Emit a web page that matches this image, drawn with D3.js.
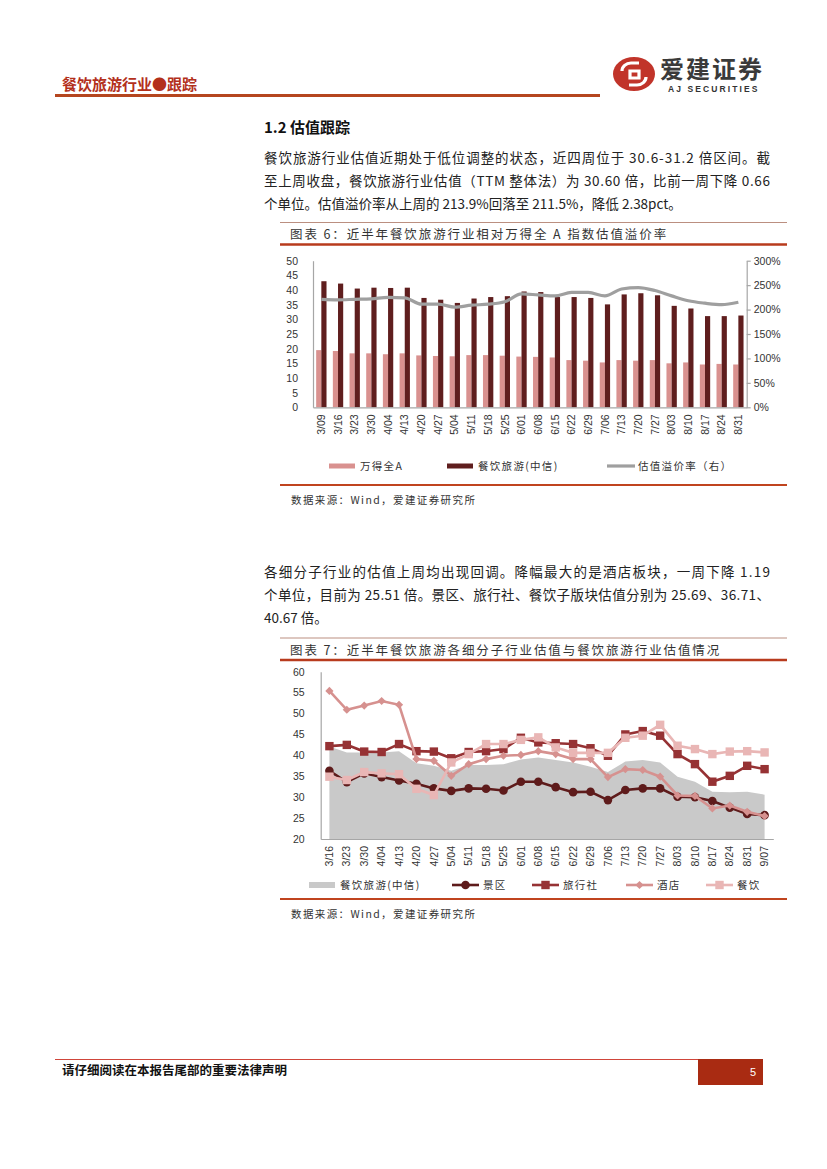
<!DOCTYPE html>
<html>
<head>
<meta charset="utf-8">
<script src="https://cdn.jsdelivr.net/npm/d3@7"></script>
<style>
 body { margin:0; background:#fff; }
 svg text { font-family:"Noto Sans CJK SC", sans-serif; fill:#222; }
 .body { font-size:13.5px; }
 .ttl { font-size:12.5px; letter-spacing:1.9px; fill:#333; }
 .src { font-size:10.5px; letter-spacing:1.4px; fill:#333; }
 .leg { font-size:10.5px; letter-spacing:1.3px; fill:#333; }
 .axis text { font-family:"Liberation Sans", Arial, sans-serif; font-size:10.5px; fill:#333; }
 .axis path, .axis line { stroke:#a6a6a6; stroke-width:1.2px; }
</style>
</head>
<body>
<svg id="page" width="827" height="1169"></svg>
<script>
 // ---- chart 6 data ----
 var weeks1 = ["3/09","3/16","3/23","3/30","4/04","4/13","4/20","4/27","5/04","5/11","5/18","5/25","6/01",
               "6/08","6/15","6/22","6/29","7/06","7/13","7/20","7/27","8/03","8/10","8/17","8/24","8/31"];
 var wanDe = [19.5,19.2,18.4,18.4,18.1,18.4,17.7,17.5,17.4,17.8,17.8,17.6,17.3,
              17.2,17.0,16.1,15.9,15.3,16.1,15.9,16.1,15.0,15.3,14.6,14.8,14.6];
 var canYinCiti = [43.0,42.2,40.5,40.8,40.7,40.8,37.3,36.7,35.6,37.1,37.6,37.9,39.5,
                   39.3,37.6,37.6,37.3,35.1,38.5,38.9,38.2,34.6,33.7,31.1,31.1,31.3];
 var premium = [221,220,221,222,225,224,211,211,205,209,211,216,232,
                230,228,235,235,228,242,245,239,228,218,213,210,215];
 var leftTicks1 = [0,5,10,15,20,25,30,35,40,45,50];
 var rightTicks1 = [0,50,100,150,200,250,300];

 // ---- chart 7 data ----
 var weeks2 = ["3/16","3/23","3/30","4/04","4/13","4/20","4/27","5/04","5/11","5/18","5/25","6/01","6/08",
               "6/15","6/22","6/29","7/06","7/13","7/20","7/27","8/03","8/10","8/17","8/24","8/31","9/07"];
 var industry = [42.1,40.7,40.7,40.7,41.0,38.1,37.5,36.3,37.7,37.7,37.9,39.0,39.5,
                 38.9,38.3,37.3,36.0,38.5,38.9,38.3,34.9,33.7,31.3,31.2,31.3,30.6];
 var scenic = [36.3,33.6,35.7,34.8,34.0,33.2,32.1,31.5,32.1,32.0,31.6,33.7,33.7,
               32.4,31.2,31.3,29.3,31.7,32.1,32.1,30.1,30.0,29.1,27.5,26.0,25.7];
 var travel = [42.2,42.5,40.9,40.8,42.7,41.0,40.9,39.3,40.8,41.0,41.5,44.2,43.1,
               42.9,42.7,41.7,39.9,45.0,45.8,44.7,40.3,37.9,33.7,35.1,37.5,36.7];
 var hotel = [55.4,50.9,51.9,53.0,52.1,39.1,38.7,35.1,37.9,39.1,39.9,40.1,41.0,
              40.3,39.1,39.1,34.8,36.7,36.5,34.9,30.4,30.3,27.3,28.0,26.5,25.5];
 var catering = [34.9,34.1,36.0,35.7,35.5,32.0,30.5,38.3,40.3,42.7,42.7,43.7,44.3,
                 41.9,40.6,40.6,40.6,44.2,44.7,47.3,42.3,41.5,40.3,40.9,41.0,40.7];
 var ticks2 = [20,25,30,35,40,45,50,55,60];

 var svg = d3.select("#page");

 // ---- page header ----
 svg.append("text").attr("x",62).attr("y",89.5).text("餐饮旅游行业●跟踪")
    .style("font-size","15px").style("font-weight","bold").style("fill","#b3301b");
 svg.append("rect").attr("x",55).attr("y",94).attr("width",545).attr("height",3).attr("fill","#b5461f");

 var logo = svg.append("g").attr("transform","translate(634,74)");
 logo.append("ellipse").attr("rx",21).attr("ry",17).attr("fill","#c1342a");
 logo.append("path").attr("d","M-12,-3 a9,8 0 0 1 9,-8 h8 M12,3 a9,8 0 0 1 -9,8 h-8 M-4,-3 h9 v7 h-9 z")
     .attr("fill","none").attr("stroke","#fff").attr("stroke-width",3.2);
 svg.append("text").attr("x",660).attr("y",78).text("爱建证券")
    .style("font-size","24px").style("font-weight","bold").style("letter-spacing","2px").style("fill","#3a3a3a");
 svg.append("text").attr("x",668).attr("y",92).text("AJ SECURITIES")
    .style("font-family","'Liberation Sans', Arial").style("font-size","8.5px").style("font-weight","bold")
    .style("letter-spacing","2.1px").style("fill","#333");

 // ---- section text ----
 svg.append("text").attr("x",264).attr("y",133).text("1.2 估值跟踪")
    .style("font-size","15px").style("font-weight","bold").style("fill","#111");

 function para(lines, y0) {
     lines.forEach(function (t, i) {
         var tx = svg.append("text").attr("class","body").attr("x",264).attr("y",y0 + i*23).text(t);
         if (i < lines.length-1) tx.attr("textLength",506).attr("lengthAdjust","spacing");
     });
 }
 para(["餐饮旅游行业估值近期处于低位调整的状态，近四周位于 30.6-31.2 倍区间。截",
       "至上周收盘，餐饮旅游行业估值（TTM 整体法）为 30.60 倍，比前一周下降 0.66",
       "个单位。估值溢价率从上周的 213.9%回落至 211.5%，降低 2.38pct。"], 162.5);
 para(["各细分子行业的估值上周均出现回调。降幅最大的是酒店板块，一周下降 1.19",
       "个单位，目前为 25.51 倍。景区、旅行社、餐饮子版块估值分别为 25.69、36.71、",
       "40.67 倍。"], 577);

 function frame(top, bottom, title) {
     svg.append("line").attr("x1",280).attr("x2",787).attr("y1",top).attr("y2",top)
        .attr("stroke","#bb8f80").attr("stroke-width",1);
     svg.append("text").attr("class","ttl").attr("x",290).attr("y",top+16.5).text(title);
     svg.append("line").attr("x1",280).attr("x2",787).attr("y1",top+22).attr("y2",top+22)
        .attr("stroke","#b83b1d").attr("stroke-width",2.5);
     svg.append("line").attr("x1",280).attr("x2",787).attr("y1",bottom).attr("y2",bottom)
        .attr("stroke","#c0441f").attr("stroke-width",2);
     svg.append("text").attr("class","src").attr("x",291).attr("y",bottom+19).text("数据来源：Wind，爱建证券研究所");
 }
 frame(222.5, 485, "图表 6：近半年餐饮旅游行业相对万得全 A 指数估值溢价率");
 frame(638, 899, "图表 7：近半年餐饮旅游各细分子行业估值与餐饮旅游行业估值情况");

 function rotateLabels(g) {
     g.selectAll(".tick text").attr("transform","rotate(-90)").attr("text-anchor","end")
      .attr("x",-7).attr("y",0).attr("dy","0.35em");
 }

 // ---- chart 6 ----
 var x0 = d3.scaleBand().domain(weeks1).range([313,746.7]);
 var yL = d3.scaleLinear().domain([0,50]).range([407.3,260.7]);
 var yR = d3.scaleLinear().domain([0,300]).range([407.3,260.7]);
 var bw = x0.bandwidth(), barW = bw*0.31;

 var c1 = svg.append("g");
 c1.selectAll(".bw").data(weeks1).enter().append("rect")
   .attr("x",function (d){ return x0(d)+bw/2-barW; })
   .attr("y",function (d,i){ return yL(wanDe[i]); })
   .attr("width",barW)
   .attr("height",function (d,i){ return yL(0)-yL(wanDe[i]); })
   .attr("fill","#d9918f");
 c1.selectAll(".bc").data(weeks1).enter().append("rect")
   .attr("x",function (d){ return x0(d)+bw/2; })
   .attr("y",function (d,i){ return yL(canYinCiti[i]); })
   .attr("width",barW)
   .attr("height",function (d,i){ return yL(0)-yL(canYinCiti[i]); })
   .attr("fill","#5f1e1e");
 c1.append("path").datum(premium)
   .attr("d",d3.line().curve(d3.curveMonotoneX)
       .x(function (d,i){ return x0(weeks1[i])+bw/2; })
       .y(function (d){ return yR(d); }))
   .attr("fill","none").attr("stroke","#9f9f9f").attr("stroke-width",3.2);

 c1.append("g").attr("class","axis").attr("transform","translate(313,0)")
   .call(d3.axisLeft(yL).tickValues(leftTicks1).tickSize(0).tickPadding(15));
 c1.append("g").attr("class","axis").attr("transform","translate(746.7,0)")
   .call(d3.axisRight(yR).tickValues(rightTicks1).tickFormat(function (d){ return d+"%"; })
         .tickSize(4).tickSizeOuter(0).tickPadding(3));
 c1.append("g").attr("class","axis").attr("transform","translate(0,407.3)")
   .call(d3.axisBottom(x0).tickSize(0).tickSizeOuter(0))
   .call(rotateLabels);

 // legend 6
 var l1 = svg.append("g");
 l1.append("rect").attr("x",329).attr("y",463.5).attr("width",26).attr("height",5).attr("fill","#d9918f");
 l1.append("text").attr("class","leg").attr("x",360).attr("y",470).text("万得全A");
 l1.append("rect").attr("x",447).attr("y",463.5).attr("width",26).attr("height",5).attr("fill","#5f1e1e");
 l1.append("text").attr("class","leg").attr("x",478).attr("y",470).text("餐饮旅游(中信)");
 l1.append("line").attr("x1",607).attr("x2",635).attr("y1",466).attr("y2",466)
   .attr("stroke","#9f9f9f").attr("stroke-width",3.2);
 l1.append("text").attr("class","leg").attr("x",638).attr("y",470).text("估值溢价率（右）");

 // ---- chart 7 ----
 var x2 = d3.scaleBand().domain(weeks2).range([320.7,773.3]);
 var y2 = d3.scaleLinear().domain([20,60]).range([839,671.7]);
 var cx = function (i){ return x2(weeks2[i])+x2.bandwidth()/2; };

 var c2 = svg.append("g");
 c2.append("path").datum(industry)
   .attr("d",d3.area().x(function (d,i){ return cx(i); }).y0(y2(20)).y1(function (d){ return y2(d); }))
   .attr("fill","#c9c9c9");

 var series = [
     {name:"景区", values:scenic, color:"#5e1b1b", mark:"circle"},
     {name:"旅行社", values:travel, color:"#963234", mark:"square"},
     {name:"酒店", values:hotel, color:"#d6918f", mark:"diamond"},
     {name:"餐饮", values:catering, color:"#e9b6b5", mark:"square"}
 ];
 function marker(g, s) {
     if (s.mark == "circle") return g.append("circle").attr("r",4.3).attr("fill",s.color);
     if (s.mark == "square") return g.append("rect").attr("x",-4.2).attr("y",-4.2).attr("width",8.4).attr("height",8.4).attr("fill",s.color);
     return g.append("rect").attr("x",-2.9).attr("y",-2.9).attr("width",5.8).attr("height",5.8)
             .attr("transform","rotate(45)").attr("fill",s.color);
 }
 series.forEach(function (s) {
     c2.append("path").datum(s.values)
       .attr("d",d3.line().x(function (d,i){ return cx(i); }).y(function (d){ return y2(d); }))
       .attr("fill","none").attr("stroke",s.color).attr("stroke-width",2.6);
     c2.selectAll(null).data(s.values).enter().append("g")
       .attr("transform",function (d,i){ return "translate("+cx(i)+","+y2(d)+")"; })
       .each(function (){ marker(d3.select(this), s); });
 });

 c2.append("g").attr("class","axis").attr("transform","translate(320.7,0)")
   .call(d3.axisLeft(y2).tickValues(ticks2).tickSize(0).tickPadding(16));
 c2.append("g").attr("class","axis").attr("transform","translate(0,839)")
   .call(d3.axisBottom(x2).tickSize(0).tickSizeOuter(0))
   .call(rotateLabels);

 // legend 7
 var l2 = svg.append("g");
 l2.append("rect").attr("x",309).attr("y",882).attr("width",26).attr("height",6).attr("fill","#c9c9c9");
 l2.append("text").attr("class","leg").attr("x",340).attr("y",889).text("餐饮旅游(中信)");
 var legX = [452, 532, 626, 706];
 series.forEach(function (s, i) {
     var g = l2.append("g").attr("transform","translate("+legX[i]+",885)");
     g.append("line").attr("x1",0).attr("x2",27).attr("stroke",s.color).attr("stroke-width",2.6);
     marker(g.append("g").attr("transform","translate(13.5,0)"), s);
     l2.append("text").attr("class","leg").attr("x",legX[i]+31).attr("y",889).text(s.name);
 });

 // ---- footer ----
 svg.append("line").attr("x1",55).attr("x2",698).attr("y1",1059.5).attr("y2",1059.5)
    .attr("stroke","#d0453a").attr("stroke-width",1);
 svg.append("text").attr("x",62).attr("y",1075).text("请仔细阅读在本报告尾部的重要法律声明")
    .style("font-size","12.5px").style("font-weight","bold").style("fill","#111");
 svg.append("rect").attr("x",698).attr("y",1059).attr("width",65).attr("height",26).attr("fill","#a92b12");
 svg.append("text").attr("x",750).attr("y",1076).text("5")
    .style("font-family","'Liberation Sans', Arial").style("font-size","11px").style("fill","#fff");
</script>
</body>
</html>
